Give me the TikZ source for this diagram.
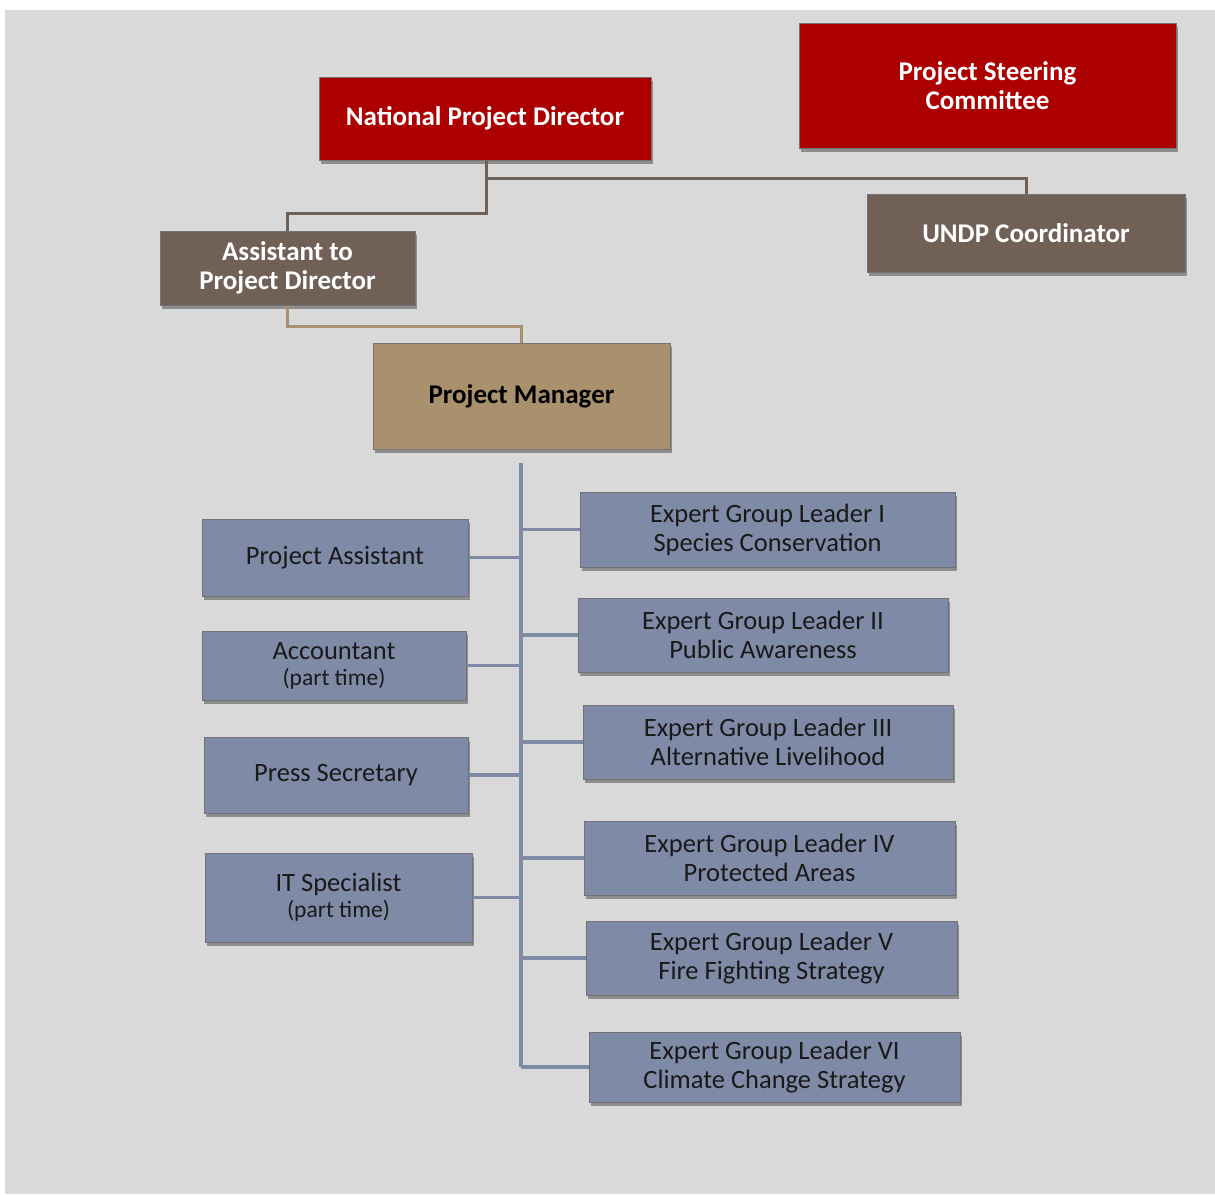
\documentclass[tikz,border=0pt]{standalone}
\usepackage{fontspec}
\setmainfont{Carlito}
\usetikzlibrary{shadows}
\definecolor{chartRed}{RGB}{172,0,0}
\definecolor{chartBrown}{RGB}{113,96,86}
\definecolor{chartTan}{RGB}{169,145,109}
\definecolor{chartBlue}{RGB}{127,138,167}
\definecolor{chartGray}{RGB}{217,217,217}
\newcommand{\partTime}{\\[-3pt]{\fontsize{23.5}{26}\selectfont(part time)}}

\begin{document}
\begin{tikzpicture}[%%
  x=1pt,y=-1pt,%%
  boxSize/.style 2 args={minimum width=#1pt,minimum height=#2pt},%%
  chartBox/.style={draw=black!55,line width=1pt,inner sep=0pt,align=center,%%
    drop shadow={shadow xshift=2pt,shadow yshift=-4pt,opacity=0.35,fill=black}},%%
  headBox/.style={chartBox,fill=chartRed,text=white,font=\fontsize{27}{29}\bfseries\selectfont},%%
  staffBox/.style={chartBox,fill=chartBrown,text=white,font=\fontsize{27}{29}\bfseries\selectfont},%%
  managerBox/.style={chartBox,fill=chartTan,text=black,font=\fontsize{27}{29}\bfseries\selectfont},%%
  teamBox/.style={chartBox,fill=chartBlue,text=black!90,font=\fontsize{26.5}{29}\selectfont},%%
  brownLine/.style={-,draw=chartBrown,line width=3pt},%%
  tanLine/.style={-,draw=chartTan,line width=3pt},%%
  blueLine/.style={-,draw=chartBlue,line width=3.5pt}%%
]
%%
%% The page and its gray background.
\useasboundingbox (0,0) rectangle (1215,1194);
\fill[chartGray] (5,10) rectangle (1215,1194);
%%
%% The direction.
\node[headBox,boxSize={332}{83}] (nationalDirector) at (485,118.5) {National Project Director};
\node[headBox,boxSize={377}{125}] (steeringCommittee) at (987.5,85.5) {Project Steering\\Committee};
\node[staffBox,boxSize={318}{78}] (undpCoordinator) at (1026,233) {UNDP Coordinator};
\node[staffBox,boxSize={255}{74}] (assistantDirector) at (287.5,268) {Assistant to\\Project Director};
\node[managerBox,boxSize={297}{106}] (projectManager) at (521.5,396) {Project Manager};
%%
%% The staff on the left.
\node[teamBox,boxSize={266}{77}] (projectAssistant) at (335,557.5) {Project Assistant};
\node[teamBox,boxSize={264}{69}] (accountant) at (334,665.5) {Accountant\partTime};
\node[teamBox,boxSize={264}{76}] (pressSecretary) at (336,775) {Press Secretary};
\node[teamBox,boxSize={267}{89}] (itSpecialist) at (338.5,897.5) {IT Specialist\partTime};
%%
%% The expert groups on the right.
\node[teamBox,boxSize={375}{75}] (expertOne) at (767.5,529.5) {Expert Group Leader I\\Species Conservation};
\node[teamBox,boxSize={370}{74}] (expertTwo) at (763,635) {Expert Group Leader II\\Public Awareness};
\node[teamBox,boxSize={370}{74}] (expertThree) at (768,742) {Expert Group Leader III\\Alternative Livelihood};
\node[teamBox,boxSize={371}{74}] (expertFour) at (769.5,858) {Expert Group Leader IV\\Protected Areas};
\node[teamBox,boxSize={371}{74}] (expertFive) at (771.5,958) {Expert Group Leader V\\Fire Fighting Strategy};
\node[teamBox,boxSize={371}{70}] (expertSix) at (774.5,1067) {Expert Group Leader VI\\Climate Change Strategy};
%%
%% The joints of the connectors.
\coordinate (directorJoint) at (486,178);
\coordinate (trunkTop) at (521,463);
\coordinate (trunkBottom) at (521,1067);
%%
%% Lines from the director and the assistant.
\draw[brownLine] (nationalDirector.south -| directorJoint) -- (directorJoint) -| (undpCoordinator.north);
\draw[brownLine] (directorJoint) -- ++(0,35) -| (assistantDirector.north);
\draw[tanLine] (assistantDirector.south) -- ++(0,21) -| (projectManager.north);
%%
%% The trunk below the manager and its branches.
\draw[blueLine] (trunkTop) -- (trunkBottom);
\foreach \member in {projectAssistant,accountant,pressSecretary,itSpecialist,%%
  expertOne,expertTwo,expertThree,expertFour,expertFive}
  \draw[blueLine] (trunkTop |- \member.center) -- (\member);
\draw[blueLine] (trunkBottom) -- (expertSix.west);
\end{tikzpicture}
\end{document}
